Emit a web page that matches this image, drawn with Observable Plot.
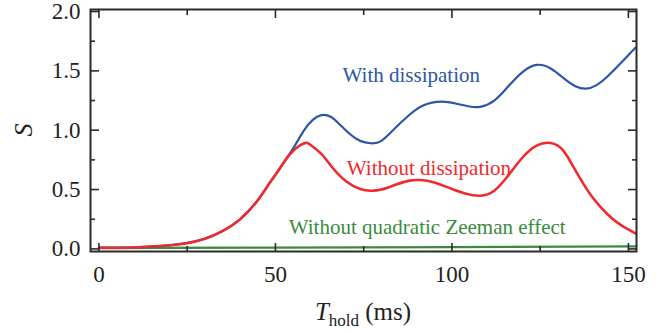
<!DOCTYPE html>
<html><head><meta charset="utf-8">
<script src="https://cdn.jsdelivr.net/npm/d3@7"></script>
<script src="https://cdn.jsdelivr.net/npm/@observablehq/plot@0.6"></script>
<style>body{margin:0;background:#fff;} svg{display:block;}</style>
</head><body><div id="chart"></div>
<script>
// Blue: with dissipation
const tWith = [0,10,20,25,30,35,40,45,48,50.5,53,55.5,58,60.5,63,65.5,68,71,74,77,80,84,88,92,97,101,105,108,112,116,120,124,128,132,135,138,141,144,148,152];
const sWith = [0.01,0.012,0.03,0.05,0.085,0.15,0.25,0.41,0.54,0.645,0.755,0.87,0.995,1.085,1.127,1.115,1.055,0.97,0.91,0.89,0.91,1.02,1.13,1.21,1.24,1.225,1.2,1.197,1.25,1.37,1.49,1.55,1.52,1.43,1.37,1.35,1.38,1.45,1.57,1.695];
// Red: without dissipation
const tWithout = [0,10,20,25,30,35,40,45,48,50.5,54.2,58,60,63,66,70,74,77,80,84,88,91,95,100,104,108,112,116,120,124,128,131.5,134.5,137.3,140.2,144,147.7,152];
const sWithout = [0.01,0.012,0.03,0.047,0.085,0.15,0.25,0.41,0.54,0.645,0.8,0.888,0.875,0.8,0.69,0.57,0.505,0.49,0.5,0.54,0.575,0.58,0.56,0.505,0.465,0.448,0.49,0.62,0.77,0.87,0.892,0.83,0.686,0.546,0.42,0.294,0.204,0.131];
// Green: without quadratic Zeeman effect
const tZeeman = [0,50,100,152];
const sZeeman = [0.008,0.011,0.015,0.021];

const xMajor = [0,50,100,150];
const xMinor = [25,75,125];
const yMajor = [0,0.5,1.0,1.5,2.0];
const yMinor = [0.25,0.75,1.25,1.75];

const labelTexts = ["With dissipation","Without dissipation","Without quadratic Zeeman effect"];
const labelT = [88.5,93.5,93];
const labelS = [1.46,0.68,0.18];
const labelColors = ["#2b56a8","#ee2a2e","#3a8a40"];

const toRows = (t, s) => t.map((d, i) => ({t: d, s: s[i]}));
const labels = labelTexts.map((txt, i) => ({txt, t: labelT[i], s: labelS[i], c: labelColors[i]}));

const font = "'Liberation Serif', 'Times New Roman', serif";
const frameColor = "#2a2a2a";

const tickMarks = [];
for (const anchor of ["bottom","top"]) {
  tickMarks.push(Plot.axisX({anchor, ticks: xMajor, tickSize: -8, text: null, label: null, stroke: frameColor, strokeWidth: 1.6}));
  tickMarks.push(Plot.axisX({anchor, ticks: xMinor, tickSize: -5, text: null, label: null, stroke: frameColor, strokeWidth: 1.6}));
}
for (const anchor of ["left","right"]) {
  tickMarks.push(Plot.axisY({anchor, ticks: yMajor, tickSize: -9, text: null, label: null, stroke: frameColor, strokeWidth: 1.6}));
  tickMarks.push(Plot.axisY({anchor, ticks: yMinor, tickSize: -5, text: null, label: null, stroke: frameColor, strokeWidth: 1.6}));
}

const plot = Plot.plot({
  width: 670,
  height: 332,
  marginLeft: 90,
  marginRight: 34,
  marginTop: 9,
  marginBottom: 81,
  style: {fontFamily: font, background: "#fff"},
  x: {domain: [-2.4, 152.3]},
  y: {domain: [-0.022, 2.017]},
  marks: [
    Plot.line(toRows(tZeeman, sZeeman), {x: "t", y: "s", stroke: labelColors[2], strokeWidth: 2.4}),
    Plot.line(toRows(tWith, sWith), {x: "t", y: "s", stroke: labelColors[0], strokeWidth: 2.2, curve: "natural"}),
    Plot.line(toRows(tWithout, sWithout), {x: "t", y: "s", stroke: labelColors[1], strokeWidth: 2.6, curve: "natural"}),
    Plot.text(labels, {x: "t", y: "s", text: "txt", fill: "c", fontSize: 21, fontFamily: font}),
    ...tickMarks,
    Plot.axisX({anchor: "bottom", ticks: xMajor, tickSize: 0, tickPadding: 14, label: null, fontSize: 23, fill: "#222", fontFamily: font}),
    Plot.axisY({anchor: "left", ticks: yMajor, tickSize: 0, tickPadding: 10, tickFormat: d3.format(".1f"), label: null, fontSize: 23, fill: "#222", fontFamily: font}),
    Plot.frame({stroke: frameColor, strokeWidth: 2})
  ]
});

const svg = d3.select(plot);
svg.append("text")
  .attr("transform", "translate(32,130) rotate(-90)")
  .attr("text-anchor", "middle")
  .attr("font-family", font)
  .attr("font-style", "italic")
  .attr("font-size", 26)
  .attr("fill", "#222")
  .text("S");
const xl = svg.append("text")
  .attr("x", 363).attr("y", 320)
  .attr("text-anchor", "middle")
  .attr("font-family", font)
  .attr("font-size", 25)
  .attr("fill", "#222");
xl.append("tspan").attr("font-style", "italic").text("T");
xl.append("tspan").attr("font-size", 17).attr("dy", 6).text("hold");
xl.append("tspan").attr("dy", -6).text(" (ms)");

document.getElementById("chart").appendChild(plot);
</script></body></html>
